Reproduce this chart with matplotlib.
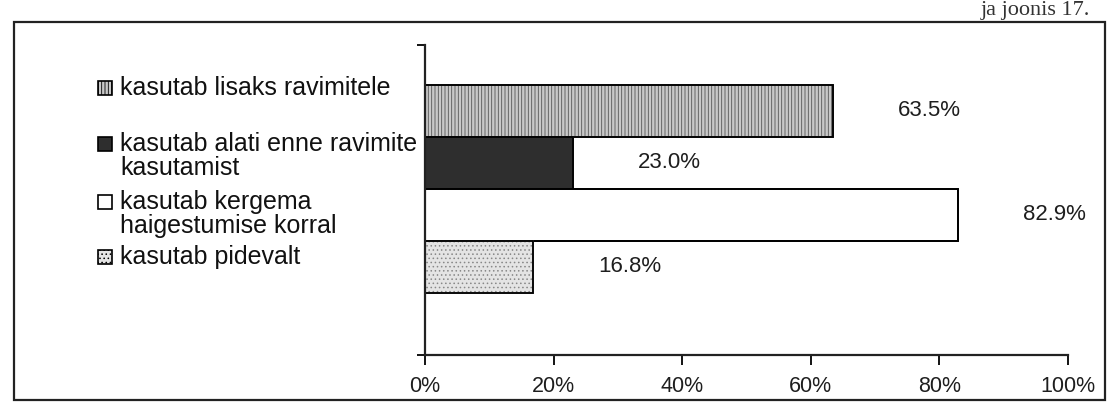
import matplotlib
matplotlib.use("Agg")
import matplotlib.pyplot as plt
from matplotlib.patches import Rectangle

plt.rcParams['font.family'] = ['Liberation Sans', 'DejaVu Sans']
plt.rcParams['hatch.linewidth'] = 0.6

# ---- data ----
categories = [
    "kasutab lisaks ravimitele",
    "kasutab alati enne ravimite\nkasutamist",
    "kasutab kergema\nhaigestumise korral",
    "kasutab pidevalt",
]
values = [63.5, 23.0, 82.9, 16.8]
value_labels = ["63.5%", "23.0%", "82.9%", "16.8%"]
xticks = [0, 20, 40, 60, 80, 100]
xtick_labels = ["0%", "20%", "40%", "60%", "80%", "100%"]
header_text = "ja joonis 17."

# ---- styles ----
faces = ["#c8c8c8", "#2e2e2e", "white", "#e4e4e4"]
hatches = ["|||||", "", "", "...."]
hatch_colors = ["#555555", "#2e2e2e", "black", "#888888"]

W, H = 1116, 417
fig = plt.figure(figsize=(W / 100, H / 100), dpi=100)

# outer frame
fig.patches.append(Rectangle((14 / W, 1 - 400 / H), (1105 - 14) / W, (400 - 22) / H,
                             transform=fig.transFigure, fill=False,
                             edgecolor="#222222", linewidth=1.6))

ax = fig.add_axes([425 / W, 1 - 355 / H, (1068 - 425) / W, (355 - 45) / H])
ypos = list(range(len(values)))
for i, (v, fc, h, hc) in enumerate(zip(values, faces, hatches, hatch_colors)):
    b = ax.barh(ypos[i], v, height=1.0, color=fc, edgecolor=hc, linewidth=1.3,
                hatch=h)
    ax.barh(ypos[i], v, height=1.0, fill=False, edgecolor="black", linewidth=1.3)
    ax.text(v + 15, ypos[i], value_labels[i], ha="center", va="center",
            fontsize=16, color="#1e1e1e")

ax.set_xlim(0, 100)
ax.set_ylim(4.7, -1.27)
ax.set_xticks(xticks)
ax.set_xticklabels(xtick_labels, fontsize=15.5, color="#1e1e1e")
ax.set_yticks([4.7, -1.27])
ax.set_yticklabels([])
ax.tick_params(axis="x", direction="out", length=7, width=1.3, pad=8)
ax.tick_params(axis="y", direction="out", length=6, width=1.3)
for s in ["top", "right"]:
    ax.spines[s].set_visible(False)
for s in ["left", "bottom"]:
    ax.spines[s].set_linewidth(1.6)
    ax.spines[s].set_color("#222222")

# manual legend at left
legend_y = [88, 156, 214, 257]
for lab, fc, h, hc, yy in zip(categories, faces, hatches, hatch_colors, legend_y):
    nlines = lab.count("\n") + 1
    first_line_y = yy - (nlines - 1) * 12.5
    r = Rectangle((98 / W, 1 - (first_line_y + 7) / H), 14 / W, 14 / H,
                  transform=fig.transFigure, facecolor=fc, edgecolor="black",
                  linewidth=1.2, hatch=h)
    fig.patches.append(r)
    fig.text(120 / W, 1 - yy / H, lab, ha="left", va="center", fontsize=18,
             color="#111111", linespacing=1.0)

fig.text(1090 / W, 1 - 10 / H, header_text, ha="right", va="center",
         fontsize=16, family="Liberation Serif", color="#333333")

fig.savefig("out.png", dpi=100)
